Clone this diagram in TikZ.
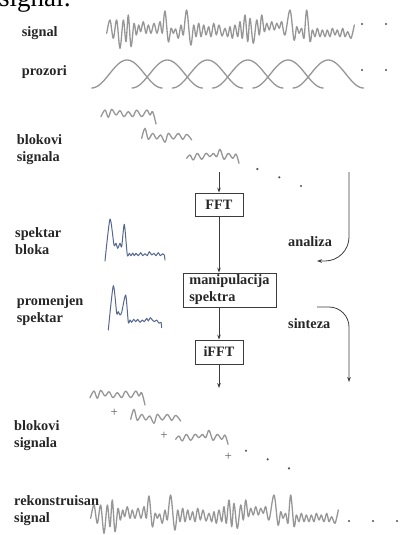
\documentclass[tikz,border=0pt]{standalone}
\usepackage{fontspec}
\setmainfont{Liberation Serif}
\usetikzlibrary{arrows.meta}

\definecolor{wavegray}{HTML}{969696}
\definecolor{inkgray}{HTML}{262626}
\definecolor{linegray}{HTML}{3C3C3C}
\definecolor{specblue}{HTML}{56678F}

% the full test signal (used on top and, shifted, as the reconstruction)
\newcommand\drawsignal[1]{%
  \draw[wave,#1] plot[smooth,tension=0.55] coordinates {
    (106.7,33.3) (110,20) (113.3,38.3) (116.7,20) (120,48.3) (123.3,20)
    (126,41.7) (128.3,15) (131,46.7) (134,23.3) (136.3,35) (138.7,25)
    (140.7,31.7) (143.3,21.7) (146,33.3) (148.3,25) (151,33.3) (154,23.3)
    (157,33.3) (160,21.7) (162.3,33.3) (165,11) (168.3,41.7) (171,28.3)
    (173.3,33.3) (175.7,29) (178.3,38.3) (181,25) (183.3,35) (186.7,10)
    (190.7,45) (193.7,25) (196,36.7) (198.7,23.3) (201,36.7) (203.7,25)
    (206,35) (208.7,26.7) (211,36.7) (213.7,23.3) (216.3,35) (219,25)
    (222,36) (225,28.3) (227.7,36.7) (230,26.7) (232.3,38.3) (235,25)
    (237.7,36.7) (240,21.7) (242.3,38.3) (245,15) (247.7,41.7) (250,18.3)
    (253.3,43.3) (256.7,20) (259.3,35) (261.7,15) (264.3,31.7) (266.7,23.3)
    (269.3,30) (271.7,21.7) (274.3,30) (276.7,23.3) (279.3,28.3) (281.7,21.7)
    (285,35) (290,10) (294,40) (296.7,26.7) (299,33.3) (301.7,28.3)
    (304,38.3) (306.7,10) (310,41.7) (312.3,30) (315,36.7) (317.3,28.3)
    (320,36.7) (322.3,30) (325,36.7) (327.3,30) (330,36.7) (332.3,28.3)
    (335,35) (337.3,30) (340,36.7) (342.7,28.3) (345,36.7) (347.7,31.7)
    (351,38.3) (354.3,25)};}

% three short signal blocks
\newcommand\drawblocks[1]{%
  \draw[wave,#1] plot[smooth,tension=0.55] coordinates {
    (101,116.7) (105,110) (108.3,117.3) (111.7,109.3) (116,115) (120,110.7)
    (124,116.7) (128.3,111.7) (132.7,116.7) (136.7,110) (141.7,116.7)
    (146.7,110) (150,115) (152.7,111.7) (156,124)};
  \draw[wave,#1] plot[smooth,tension=0.55] coordinates {
    (141.7,138.3) (145,128.3) (148.3,139.3) (152.7,133.3) (156.7,139)
    (160.7,135) (165,142.3) (168.3,133.3) (173.3,139) (178.3,133.3)
    (182.7,139.3) (186.7,134.3) (191.7,140)};
  \draw[wave,#1] plot[smooth,tension=0.55] coordinates {
    (186.7,158.3) (190,155) (193.3,160) (197.3,153.3) (201.7,159.3)
    (206,153.3) (210,156.7) (213.3,153.3) (216.7,156.7) (220,149.3)
    (224,159.3) (228.3,153.3) (232.7,158.3) (236,154) (239,163.3)};}

\tikzset{
  wave/.style={draw=wavegray, line width=1.3pt, line join=round, line cap=round},
  spec/.style={draw=specblue, line width=1pt, line join=round, line cap=round},
  lbl/.style={text=inkgray, font=\bfseries\fontsize{14.3}{17}\selectfont,
    align=left, inner sep=0pt, anchor=base west},
  procbox/.style={draw=linegray, line width=0.8pt, text=inkgray,
    font=\bfseries\fontsize{14.3}{17}\selectfont, inner sep=0pt},
  conn/.style={draw=linegray, line width=0.8pt,
    -{Stealth[length=5pt,width=3.6pt]}},
  dotmark/.style={circle, fill=inkgray!80, inner sep=0pt, minimum size=2.4pt},
  plusmark/.style={text=inkgray!75, font=\fontsize{13}{13}\selectfont, inner sep=0pt}
}

\begin{document}
\begin{tikzpicture}[x=1pt, y=-1pt]
\useasboundingbox (0,0) rectangle (404,535);

% heading text, partly above the page edge
\node[anchor=base west, inner sep=0pt, text=black,
      font=\fontsize{27}{27}\selectfont] (head) at (-1,7) {signal:};

% left column labels (base = baseline of the last line)
\node[lbl] (lsig)  at (21.7,37)  {signal};
\node[lbl] (lwin)  at (21.7,75)  {prozori};
\node[lbl] (lblk)  at (16.7,161.5) {blokovi\\signala};
\node[lbl] (lspec) at (15,254.3) {spektar\\bloka};
\node[lbl] (lmod)  at (16.7,322) {promenjen\\spektar};
\node[lbl] (lblk2) at (14,447)   {blokovi\\signala};
\node[lbl] (lrec)  at (14,522)   {rekonstruisan\\signal};

% input signal and windows
\drawsignal{}
\node[dotmark] (d1) at (362,24) {};
\node[dotmark] (d2) at (386,24) {};
\foreach \k in {0,...,5}
  \draw[wave] plot[domain=0:1, samples=41, variable=\t]
    ({127+40.25*\k-35.25+70.5*\t}, {88-14*(1-cos(360*\t))});
\node[dotmark] (d3) at (362,70) {};
\node[dotmark] (d4) at (386,70) {};

% windowed blocks
\drawblocks{}
\node[dotmark] (d5) at (257.3,169) {};
\node[dotmark] (d6) at (279.3,177.3) {};
\node[dotmark] (d7) at (301,186) {};

% processing chain
\coordinate (blkend) at (219,172);
\node[procbox, minimum width=48pt, minimum height=23pt] (fft) at (219,204.5) {FFT};
\node[procbox, minimum width=93pt, minimum height=34pt, align=left] (manip)
  at (229.5,290) {manipulacija\\spektra};
\node[procbox, minimum width=48pt, minimum height=24pt] (ifft) at (219,352) {iFFT};
\coordinate (outend) at (219,388);

\draw[conn] (blkend) -- (fft.north);
\draw[conn] (fft.south) -- (fft.south |- manip.north);
\draw[conn] (fft.south |- manip.south) -- (ifft.north);
\draw[conn] (ifft.south) -- (outend);

% analysis / synthesis arrows
\coordinate (anatop) at (349,172);
\coordinate (anaend) at (317,261);
\draw[conn, rounded corners=24pt] (anatop) |- (anaend);
\node[lbl] (lana) at (288,246) {analiza};
\coordinate (sinstart) at (317,307);
\coordinate (sinend) at (349,382);
\draw[conn, rounded corners=20pt] (sinstart) -| (sinend);
\node[lbl] (lsin) at (288,328.3) {sinteza};

% block spectrum
\draw[spec] plot[smooth, tension=0.4] coordinates {
  (105,261) (110,219) (114,245) (116,243.3) (117.7,248.3) (120,243.3)
  (121.7,246.7) (124.3,224.3) (127.3,255) (129.3,253.3) (131,255.7)
  (132.7,253) (134.3,255.7) (136,253.3) (138.3,255.7) (140.7,252.7)
  (142.7,255.7) (145,253.7) (147.3,255.7) (149.3,251.7) (151.7,255)
  (154,253.3) (156,255.7) (158.3,252.7) (160.3,255.7) (162.7,253.7)
  (164.3,255) (165,260)};
% modified spectrum
\draw[spec] plot[smooth, tension=0.4] coordinates {
  (108.3,330) (113.3,285.7) (116.7,313.3) (118.3,311.7) (120,315)
  (121.7,312.3) (125.7,295) (128.3,322.3) (130,320) (131.7,322.3)
  (133.7,319.3) (135.7,321.7) (137.7,319.3) (140,322.3) (142.3,320)
  (144.3,321.7) (146.7,318.3) (148.3,321) (150.3,317.7) (152.3,320)
  (154.3,321.7) (156.7,320) (159,323.3) (161,322.3) (161.7,327.7)};

% output blocks for overlap-add
\drawblocks{shift={(-11,281)}}
\node[plusmark] (p1) at (114.3,413.3) {+};
\node[plusmark] (p2) at (164,436) {+};
\node[plusmark] (p3) at (228.3,456.7) {+};
\node[dotmark] (d8) at (246,450.7) {};
\node[dotmark] (d9) at (267.7,459.3) {};
\node[dotmark] (d10) at (289,468.3) {};

% reconstructed signal
\drawsignal{shift={(-16,485)}}
\node[dotmark] (d11) at (349,521) {};
\node[dotmark] (d12) at (373,521) {};
\node[dotmark] (d13) at (397,521) {};
\end{tikzpicture}
\end{document}
